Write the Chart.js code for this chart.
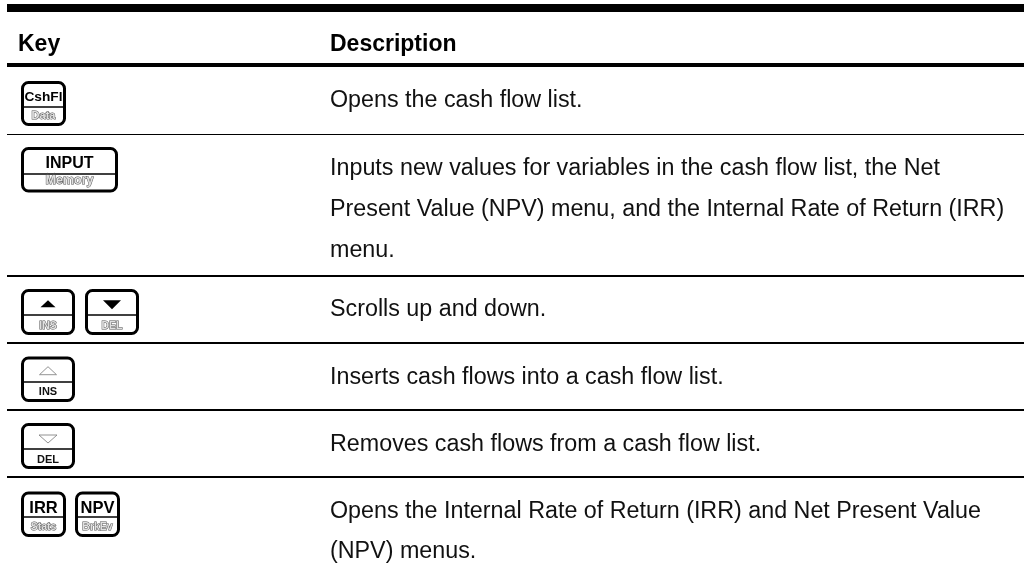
<!DOCTYPE html>
<html><head><meta charset="utf-8">
<style>html,body{margin:0;padding:0;background:#fff}#w{width:1024px;height:577px;position:relative}</style>
<script src="https://cdn.jsdelivr.net/npm/chart.js@4"></script>
</head><body><div id="w"><canvas id="c" width="1024" height="577"></canvas></div>
<script>
const columnHeaders = ["Key", "Description"];
const descriptions = [
  ["Opens the cash flow list."],
  ["Inputs new values for variables in the cash flow list, the Net",
   "Present Value (NPV) menu, and the Internal Rate of Return (IRR)",
   "menu."],
  ["Scrolls up and down."],
  ["Inserts cash flows into a cash flow list."],
  ["Removes cash flows from a cash flow list."],
  ["Opens the Internal Rate of Return (IRR) and Net Present Value",
   "(NPV) menus."]
];
const keyUpper = [["CshFl"], ["INPUT"], ["▲", "▼"], ["△"], ["▽"], ["IRR", "NPV"]];
const keyLower = [["Data"], ["Memory"], ["INS", "DEL"], ["INS"], ["DEL"], ["Stats", "BrkEv"]];
const lowerOutlined = [true, true, true, false, false, true];

// layout (pixels): rule top + height
const rules = [[4,8],[63,4],[134,1],[275,2],[342,2],[409,2],[476,2]];
const ruleL = 7, ruleR = 1024;
const headerBaseline = 51, colX = [18, 330];
const descBaselines = [[107],[175,216,257],[316],[384],[451],[518,558]];
const keyBox = [
  {top:81,bot:126,div:107,x:[[21,66]],up:13.7,upY:101,lo:11,loY:118.5},
  {top:147,bot:192.5,div:174,x:[[21,118]],up:16,upY:168,lo:12.5,loY:184},
  {top:289,bot:335,div:315,x:[[21,75],[85,139]],lo:10.5,loY:328.5},
  {top:356.5,bot:402,div:382,x:[[21,75]],lo:11,loY:395},
  {top:423,bot:469,div:449,x:[[21,75]],lo:11,loY:462.5},
  {top:491.5,bot:537,div:517,x:[[21,66],[75,120]],up:16.5,upY:513,lo:10.5,loY:529.5}
];
const glyphs = {
  '▲':{w:7.5,h:7,cy:303.7,up:true,solid:true},
  '▼':{w:9,h:9,cy:304.7,up:false,solid:true},
  '△':{w:8.5,h:8,cy:370.7,up:true,solid:false},
  '▽':{w:9,h:8,cy:439,up:false,solid:false}
};
const FONT = '"Liberation Sans", Arial, sans-serif';

function drawKey(ctx, X, Y, box, xr, upper, lower, outlined) {
  const x0 = X(xr[0]), x1 = X(xr[1]), y0 = Y(box.top), y1 = Y(box.bot), d = Y(box.div), cx = (x0+x1)/2;
  ctx.strokeStyle = '#000'; ctx.lineWidth = 3;
  ctx.beginPath(); ctx.roundRect(x0+1.5, y0+1.5, x1-x0-3, y1-y0-3, 6); ctx.stroke();
  ctx.lineWidth = 1.5;
  ctx.beginPath(); ctx.moveTo(x0+1, d); ctx.lineTo(x1-1, d); ctx.stroke();
  ctx.textAlign = 'center'; ctx.textBaseline = 'alphabetic';
  const g = glyphs[upper];
  if (g) {
    const cy = Y(g.cy);
    ctx.beginPath();
    if (g.up) { ctx.moveTo(cx-g.w, cy+g.h/2); ctx.lineTo(cx+g.w, cy+g.h/2); ctx.lineTo(cx, cy-g.h/2); }
    else { ctx.moveTo(cx-g.w, cy-g.h/2); ctx.lineTo(cx+g.w, cy-g.h/2); ctx.lineTo(cx, cy+g.h/2); }
    ctx.closePath();
    if (g.solid) { ctx.fillStyle = '#000'; ctx.fill(); }
    else { ctx.strokeStyle = '#777'; ctx.lineWidth = 0.8; ctx.stroke(); }
  } else {
    ctx.fillStyle = '#000';
    ctx.font = 'bold ' + box.up + 'px ' + FONT;
    ctx.fillText(upper, cx, Y(box.upY));
  }
  ctx.font = 'bold ' + box.lo + 'px ' + FONT;
  if (outlined) {
    ctx.strokeStyle = '#555'; ctx.lineWidth = 1;
    ctx.strokeText(lower, cx, Y(box.loY));
    ctx.fillStyle = '#e0e0e0'; ctx.fillText(lower, cx, Y(box.loY));
  } else {
    ctx.fillStyle = '#111'; ctx.fillText(lower, cx, Y(box.loY));
  }
}

const tablePlugin = {
  id: 'tablePlugin',
  afterDraw(chart) {
    const {ctx, scales:{x, y}} = chart;
    const X = v => x.getPixelForValue(v), Y = v => y.getPixelForValue(v);
    ctx.save();
    ctx.fillStyle = '#000';
    rules.forEach(([ry, t]) => ctx.fillRect(X(ruleL), Y(ry), X(ruleR)-X(ruleL), t));
    ctx.textAlign = 'left'; ctx.textBaseline = 'alphabetic';
    ctx.font = 'bold 23px ' + FONT;
    columnHeaders.forEach((h, i) => ctx.fillText(h, X(colX[i]), Y(headerBaseline)));
    ctx.font = '23.3px ' + FONT; ctx.fillStyle = '#111';
    descriptions.forEach((lines, r) => lines.forEach((t, l) => ctx.fillText(t, X(colX[1]), Y(descBaselines[r][l]))));
    keyUpper.forEach((row, r) => row.forEach((u, k) =>
      drawKey(ctx, X, Y, keyBox[r], keyBox[r].x[k], u, keyLower[r][k], lowerOutlined[r])));
    ctx.restore();
  }
};

new Chart(document.getElementById('c'), {
  type: 'scatter',
  data: {datasets: [{data: []}]},
  options: {
    responsive: false, animation: false, devicePixelRatio: 1,
    layout: {padding: 0},
    plugins: {legend: {display: false}, tooltip: {enabled: false}, title: {display: false}},
    scales: {
      x: {type: 'linear', min: 0, max: 1024, display: false},
      y: {type: 'linear', min: 0, max: 577, reverse: true, display: false}
    }
  },
  plugins: [tablePlugin]
});
</script></body></html>
